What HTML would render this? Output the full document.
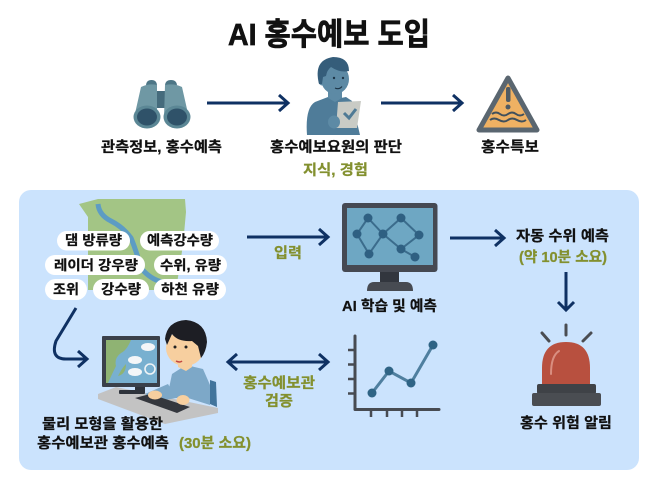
<!DOCTYPE html>
<html lang="ko"><head><meta charset="utf-8"><style>
html,body{margin:0;padding:0;background:#fff}
svg{display:block}
text{font-family:"Liberation Sans","Noto Sans CJK KR",sans-serif;font-weight:700;text-anchor:start;fill:#111;stroke:#111;stroke-width:.25px}
text.g{fill:#83902f;stroke:#83902f}
.a{fill:none;stroke:#0f3163;stroke-width:3}
</style></head><body>
<svg width="658" height="486" viewBox="0 0 658 486" xmlns="http://www.w3.org/2000/svg">
<rect width="658" height="486" fill="#fff"/>
<text x="228" y="45" font-size="31" textLength="202" lengthAdjust="spacingAndGlyphs" style="stroke-width:.7px">AI 홍수예보 도입</text>

<!-- binoculars -->
<path d="M146 86q0-6 5.500-6t5.500 6zM165 86q0-6 6-6t6 6z" fill="#4d7686"/>
<rect x="156" y="91" width="10" height="17" fill="#456b7c"/>
<path d="M141 87Q149 83 157 85V118H134ZM165 85Q174 83 182 87L189 118H164Z" fill="#6f98a4"/>
<ellipse cx="147" cy="117" rx="13.500" ry="11.500" fill="#5b8795"/><ellipse cx="147" cy="117" rx="10" ry="8.500" fill="#2f5269"/>
<ellipse cx="177" cy="117" rx="13.500" ry="11.500" fill="#5b8795"/><ellipse cx="177" cy="117" rx="10" ry="8.500" fill="#2f5269"/>

<!-- expert -->
<path d="M307 135Q305 108 315 102L328 97L336 99L346 97L352 101L360 135Z" fill="#4f7c99"/>
<path d="M328 88h14v10l-7 4-7-4z" fill="#5d8aa5"/>
<ellipse cx="322" cy="81" rx="3.500" ry="4.500" fill="#5d8aa5"/>
<ellipse cx="335" cy="79" rx="14" ry="15" fill="#5d8aa5"/>
<path d="M319 84Q313 60 333 57Q349 57 349 71Q340 73 331 67Q327 70 326 76L323 77L322 84Z" fill="#355d7a"/>
<circle cx="334" cy="78" r="1.200" fill="#1d3547"/><circle cx="343" cy="78" r="1.200" fill="#1d3547"/>
<path d="M335 88q4 2 7-1.500" fill="none" stroke="#1d3547" stroke-width="1.100"/>
<path d="M338 102L361 101L357 128L336 128Z" fill="#c9cbc5"/>
<path d="M344 113l5 5 7-9" fill="none" stroke="#4f7a95" stroke-width="3"/>
<ellipse cx="334" cy="122" rx="6" ry="6.500" fill="#5d8aa5"/>

<!-- warning -->
<path d="M508 78L537 130H479Z" fill="#efb163" stroke="#5a6670" stroke-width="5" stroke-linejoin="round"/>
<rect x="506" y="87" width="4.500" height="15" rx="2" fill="#4f5a63"/><circle cx="508" cy="107" r="2.500" fill="#4f5a63"/>
<path d="M492 114q4-3 8 0t8 0 8 0 8 0M490 120q4-3 9 0t9 0 9 0 9 0" fill="none" stroke="#40505c" stroke-width="2"/>

<!-- top arrows -->
<path class="a" d="M207 103H287M279 95L288 103L279 111"/>
<path class="a" d="M381 103H461M453 95L462 103L453 111"/>

<text x="101" y="152" font-size="14.500" textLength="121" lengthAdjust="spacingAndGlyphs">관측정보, 홍수예측</text>
<text x="270" y="152" font-size="14.500" textLength="132" lengthAdjust="spacingAndGlyphs">홍수예보요원의 판단</text>
<text x="481" y="152" font-size="14.500" textLength="58" lengthAdjust="spacingAndGlyphs">홍수특보</text>
<text x="303" y="175" font-size="14.500" textLength="65" lengthAdjust="spacingAndGlyphs" class="g">지식, 경험</text>

<!-- panel -->
<rect x="19" y="190" width="620" height="280" rx="12" fill="#cbe3fd"/>

<!-- map -->
<path d="M98 199H185L186 212L183 245L176 290H88V217L79 204Z" fill="#a3c585"/>
<path d="M98 204Q99 215 111 221T131 238Q136 250 141 268Q150 279 162 282" fill="none" stroke="#5d9cc4" stroke-width="5"/>
<g fill="#fff">
<rect x="57" y="231" width="73" height="19.500" rx="9.700"/><rect x="140" y="231" width="79" height="19.500" rx="9.700"/>
<rect x="45" y="255" width="100" height="20" rx="10"/><rect x="154" y="255" width="73" height="20" rx="10"/>
<rect x="45" y="279" width="42" height="21" rx="10.500"/><rect x="93" y="279" width="56" height="21" rx="10.500"/><rect x="154" y="279" width="72" height="21" rx="10.500"/>
</g>
<g font-size="13.500">
<text x="65" y="245" textLength="57" lengthAdjust="spacingAndGlyphs">댐 방류량</text>
<text x="147" y="245" textLength="66" lengthAdjust="spacingAndGlyphs">예측강수량</text>
<text x="54" y="270" textLength="84" lengthAdjust="spacingAndGlyphs">레이더 강우량</text>
<text x="160" y="270" textLength="61" lengthAdjust="spacingAndGlyphs">수위, 유량</text>
<text x="53" y="294" textLength="26" lengthAdjust="spacingAndGlyphs">조위</text>
<text x="101" y="294" textLength="40" lengthAdjust="spacingAndGlyphs">강수량</text>
<text x="161" y="294" textLength="58" lengthAdjust="spacingAndGlyphs">하천 유량</text>
</g>
<path class="a" d="M76 308L56 341Q50 359 66 359H86M78 351L87 359L78 367"/>

<!-- person at computer -->
<path d="M98 394L116 387L218 408L218 413L165 424L98 399Z" fill="#c3c3c3"/>
<path d="M210 380L216 382L217 407L210 404Z" fill="#41749c"/>
<path d="M167 398L172 374L186 365L203 369L210 385L210 405L188 398Z" fill="#7da8c8"/>
<path d="M145 394L168 384L176 398L155 402Z" fill="#7da8c8"/>
<rect x="102" y="336" width="58" height="51" rx="1" fill="#3a404a"/>
<rect x="106" y="340" width="51" height="43" fill="#78b0d0"/>
<path d="M106 340H131Q127 350 121 353Q114 358 116 366Q112 374 108 383H106Z" fill="#8fb373"/>
<path d="M118 376Q122 368 126 364Q126 374 118 376Z" fill="#8fb373"/>
<g fill="#f4f6f8"><ellipse cx="148" cy="347" rx="7" ry="4"/><ellipse cx="135" cy="360" rx="7" ry="4"/><ellipse cx="135" cy="372" rx="7" ry="4"/></g>
<circle cx="150" cy="369" r="5" fill="none" stroke="#eef3f6" stroke-width="1.600"/>
<rect x="135" y="387" width="10" height="5" fill="#2e333b"/><rect x="119" y="390" width="26" height="4" rx="1" fill="#2e333b"/>
<path d="M135 398L150 394L190 407L177 413Z" fill="#34373d"/>
<ellipse cx="155" cy="395" rx="7" ry="4.500" fill="#f7cf9f"/><ellipse cx="183" cy="400" rx="6.500" ry="5" fill="#f7cf9f"/>
<path d="M178 358h14v9l-6 4-8-4z" fill="#f7cf9f"/>
<ellipse cx="185" cy="348" rx="19" ry="18" fill="#f7cf9f"/>
<path d="M165 339Q167 321 186 320Q206 322 207 342Q206 352 201 358L198 346L192 341Q178 342 172 334L167 345Z" fill="#1d1e24"/>
<circle cx="175" cy="347" r="1.500" fill="#222"/><circle cx="186" cy="347" r="1.500" fill="#222"/>
<path d="M176 361q4 2 6 0" fill="none" stroke="#c2453f" stroke-width="1.500"/>
<text x="42" y="429" font-size="14.500" textLength="121" lengthAdjust="spacingAndGlyphs">물리 모형을 활용한</text>
<text x="37" y="448" font-size="14.500" textLength="132" lengthAdjust="spacingAndGlyphs">홍수예보관 홍수예측</text>
<text x="179" y="448" font-size="14.500" textLength="72" lengthAdjust="spacingAndGlyphs" class="g">(30분 소요)</text>

<!-- mid arrows -->
<path class="a" d="M247 237H327M319 229L328 237L319 245"/>
<text x="274" y="258" font-size="14.500" textLength="28" lengthAdjust="spacingAndGlyphs" class="g">입력</text>
<path class="a" d="M229 362H327M237 354L228 362L237 370M319 354L328 362L319 370"/>
<text x="243" y="388" font-size="14.500" textLength="72" lengthAdjust="spacingAndGlyphs" class="g">홍수예보관</text>
<text x="265" y="406" font-size="14.500" textLength="28" lengthAdjust="spacingAndGlyphs" class="g">검증</text>

<!-- AI monitor -->
<rect x="380" y="270" width="19" height="13" fill="#32363e"/>
<path d="M367 291Q367 282 374 282H406Q413 282 413 291Z" fill="#474b52"/>
<rect x="342" y="203" width="95.500" height="69" rx="3" fill="#454952"/>
<rect x="347" y="208" width="86" height="57" fill="#6ea7c3"/>
<path d="M368 218L357 234L369 254L383 234L368 218M383 234L401 218L419 235L401 249L383 234M401 249L415 257" fill="none" stroke="#3b6c8c" stroke-width="2"/>
<g fill="#2f6082"><circle cx="368" cy="218" r="4.500"/><circle cx="357" cy="234" r="4.500"/><circle cx="369" cy="254" r="4.500"/><circle cx="383" cy="234" r="4.500"/><circle cx="401" cy="218" r="4.500"/><circle cx="419" cy="235" r="4.500"/><circle cx="401" cy="249" r="4.500"/><circle cx="415" cy="257" r="4.500"/></g>
<text x="342" y="311" font-size="14.500" textLength="95" lengthAdjust="spacingAndGlyphs">AI 학습 및 예측</text>

<path class="a" d="M450 238H503M495 230L504 238L495 246"/>
<text x="516" y="241" font-size="14.500" textLength="93" lengthAdjust="spacingAndGlyphs">자동 수위 예측</text>
<text x="519" y="262" font-size="14.500" textLength="88" lengthAdjust="spacingAndGlyphs" class="g">(약 10분 소요)</text>
<path class="a" d="M566 272V310M558 302L566 310L574 302"/>

<!-- chart -->
<path d="M355 336V409.500H439" fill="none" stroke="#474b52" stroke-width="3" stroke-linecap="round" stroke-linejoin="round"/>
<path d="M348 350H355M348 364.500H355M348 379H355M348 393.500H355M371 410V417M387 410V417M402 410V417M417 410V417" fill="none" stroke="#474b52" stroke-width="2.500"/>
<path d="M372 393L389 371L411 383L433 345" fill="none" stroke="#4f7f9f" stroke-width="3"/>
<g fill="#2f6485"><circle cx="372" cy="393" r="4.500"/><circle cx="389" cy="371" r="4.500"/><circle cx="411" cy="383" r="4.500"/><circle cx="433" cy="345" r="4.500"/></g>

<!-- siren -->
<path d="M566 325V335M542 333L549 341M591 333L583 341" fill="none" stroke="#4a4d52" stroke-width="3" stroke-linecap="round"/>
<path d="M542 385V368Q542 342 566 342Q590 342 590 368V385Z" fill="#b8503f"/>
<path d="M551 374Q551 356 559 351" fill="none" stroke="#d98e80" stroke-width="2" stroke-linecap="round"/>
<rect x="537" y="384" width="59" height="10" rx="2" fill="#3f4247"/>
<rect x="532" y="393" width="69" height="13" rx="2" fill="#4a4d52"/>
<text x="520" y="428" font-size="14.500" textLength="92" lengthAdjust="spacingAndGlyphs">홍수 위험 알림</text>
</svg>
</body></html>
